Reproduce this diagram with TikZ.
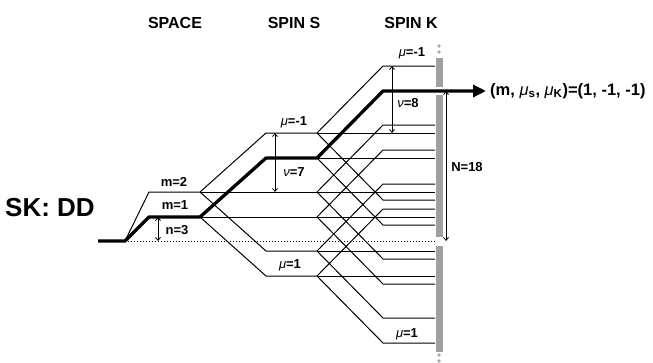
\documentclass[tikz,border=0pt]{standalone}
\usepackage{fontspec}
\setmainfont{Liberation Sans}
\usetikzlibrary{arrows.meta}
\definecolor{ink}{HTML}{000000}
\definecolor{bargray}{HTML}{A0A0A0}
\definecolor{dotgray}{HTML}{A8A8A8}

\newcommand{\mutxt}{{\mdseries\itshape μ}}
\newcommand{\nutxt}{{\mdseries\itshape ν}}

\begin{document}
\begin{tikzpicture}[
  x=1pt, y=-1pt,
  level/.style={line width=1pt, ink},
  path1/.style={line width=3.3pt, ink, line join=round},
  dimarr/.style={{Straight Barb[length=3pt, width=5pt]}-{Straight Barb[length=3pt, width=5pt]}, line width=0.8pt},
  lbl/.style={font=\fontsize{13}{15}\selectfont\bfseries, inner sep=0pt},
  head/.style={font=\fontsize{16}{18}\selectfont\bfseries, inner sep=0pt},
]
\useasboundingbox (0,0) rectangle (653,362);

% Column titles
\node[head] (tspace) at (175,23) {SPACE};
\node[head] (tspins) at (294,23) {SPIN S};
\node[head] (tspink) at (411,23) {SPIN K};

\node[font=\fontsize{26}{28}\selectfont\bfseries, inner sep=0pt] (sk) at (50,208) {SK: DD};

% =============================================
% Space levels
% =============================================
\draw[level, dotted, line width=0.9pt] (125,241) -- (435,241);
\draw[level] (125,241) -- (149,192) -- (200,192);
\draw[level] (149,217) -- (200,217);

% =============================================
% Spin S splitting (nu=7)
% =============================================
\foreach \y in {192,217} {
  \draw[level] (200,\y) -- (317,\y);
  \draw[level] (200,\y) -- (266,\y-59) -- (317,\y-59);
  \draw[level] (200,\y) -- (266,\y+59) -- (317,\y+59);
}

% =============================================
% Spin K splitting (nu=8)
% =============================================
\foreach \y in {133,158,192,217,251,276} {
  \draw[level] (317,\y) -- (435,\y);
  \draw[level] (317,\y) -- (383,\y-67) -- (435,\y-67);
  \draw[level] (317,\y) -- (383,\y+67) -- (435,\y+67);
}

% Grey bar
\fill[bargray] (435.5,58) rectangle (442.5,87);
\fill[bargray] (435.5,95) rectangle (442.5,237);
\fill[bargray] (435.5,246) rectangle (442.5,352);
\foreach \d in {46,52,355,361}
  \fill[dotgray] (439,\d) circle (1.8);

% Selected state
\draw[path1, -{Triangle[length=13pt, width=12pt]}]
  (98,241) -- (125,241) -- (149,217) -- (200,217) -- (266,158)
  -- (317,158) -- (383,91) -- (486,91);
\node[font=\fontsize{16.5}{18}\selectfont\bfseries, anchor=west, inner sep=0pt] (state) at (490,91)
  {(m, \mutxt\textsubscript{s}, \mutxt\textsubscript{K})=(1, -1, -1)};

% =============================================
% Labels and splittings
% =============================================
\node[lbl] (m2) at (174,182) {m=2};
\node[lbl] (m1) at (175,205) {m=1};
\node[lbl] (n3) at (177,230) {n=3};
\draw[dimarr] (158,217) -- (158,241);

\node[lbl] (mus1) at (294,122) {\mutxt=-1};
\node[lbl] (nu7) at (294,172) {\nutxt=7};
\draw[dimarr] (275,133) -- (275,192);
\node[lbl] (mus2) at (290,265) {\mutxt=1};

\node[lbl] (muk1) at (412,53) {\mutxt=-1};
\node[lbl] (nu8) at (408,103) {\nutxt=8};
\draw[dimarr] (392,66) -- (392,133);
\node[lbl] (muk2) at (407,334) {\mutxt=1};

\node[lbl] (ntot) at (467,167) {N=18};
\draw[dimarr] (446,91) -- (446,241);

\end{tikzpicture}
\end{document}
